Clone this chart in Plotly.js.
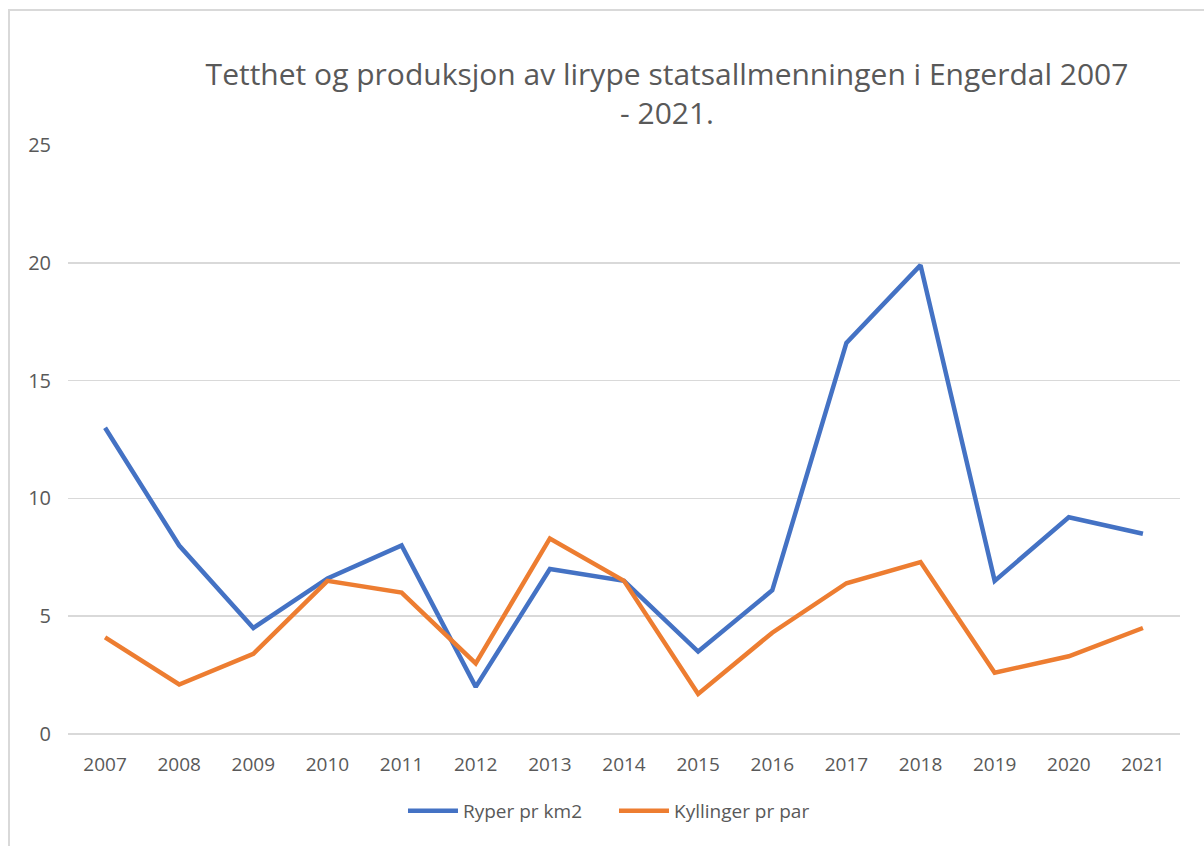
<!DOCTYPE html>
<html>
<head>
<meta charset="utf-8">
<script src="https://cdn.plot.ly/plotly-3.0.1.min.js"></script>
<style>
  html, body { margin: 0; padding: 0; overflow: hidden; background: #fff; }
  #chart { width: 1204px; height: 846px; }
  #frame { position: absolute; left: 8px; top: 9px; width: 1400px; height: 1200px; border: 2px solid #d9d9d9; pointer-events: none; }
</style>
</head>
<body>
<div id="chart"></div>
<div id="frame"></div>
<script>
const years = ["2007","2008","2009","2010","2011","2012","2013","2014","2015","2016","2017","2018","2019","2020","2021"];
const ryperPrKm2 = [13, 8, 4.5, 6.6, 8, 2, 7, 6.5, 3.5, 6.1, 16.6, 19.9, 6.5, 9.2, 8.5];
const kyllingerPrPar = [4.1, 2.1, 3.4, 6.5, 6, 3, 8.3, 6.5, 1.7, 4.3, 6.4, 7.3, 2.6, 3.3, 4.5];
const seriesNames = ["Ryper pr km2", "Kyllinger pr par"];
const titleText = "Tetthet og produksjon av lirype statsallmenningen i Engerdal 2007<br>- 2021.";

const FONT = "Open Sans, Noto Sans, sans-serif";
const traces = [
  { x: years, y: ryperPrKm2, name: seriesNames[0], type: "scatter", mode: "lines",
    line: { color: "#4472C4", width: 4.5 } },
  { x: years, y: kyllingerPrPar, name: seriesNames[1], type: "scatter", mode: "lines",
    line: { color: "#ED7D31", width: 4.5 } }
];
const layout = {
  width: 1204, height: 846,
  margin: { l: 68, r: 24, t: 145, b: 112 },
  paper_bgcolor: "#fff", plot_bgcolor: "#fff",
  font: { family: FONT, color: "#595959", size: 19 },
  title: { text: titleText, font: { family: FONT, size: 30, color: "#595959" },
    xref: "container", yref: "container", x: 0.554, xanchor: "center", y: 0.9, yanchor: "top" },
  xaxis: { type: "category", range: [-0.5, 14.5], showgrid: false, showline: false, zeroline: false,
    ticks: "", tickfont: { size: 19, color: "#595959" }, ticklabelstandoff: 17, fixedrange: true },
  yaxis: { range: [0, 25], dtick: 5, tick0: 0, showgrid: true, gridcolor: "#d9d9d9", gridwidth: 1.5,
    zeroline: true, zerolinecolor: "#d9d9d9", zerolinewidth: 1.5, showline: false,
    ticks: "", tickfont: { size: 20, color: "#595959" }, ticklabelstandoff: 16, fixedrange: true },
  showlegend: true,
  legend: { orientation: "h", x: 0.491, xanchor: "center", xref: "paper", y: 16 / 846, yref: "container", yanchor: "bottom",
    font: { size: 19, color: "#595959" }, itemwidth: 50, entrywidth: 146, traceorder: "normal" },
  hovermode: false
};
Plotly.newPlot("chart", traces, layout, { displayModeBar: false, staticPlot: true });
</script>
</body>
</html>
